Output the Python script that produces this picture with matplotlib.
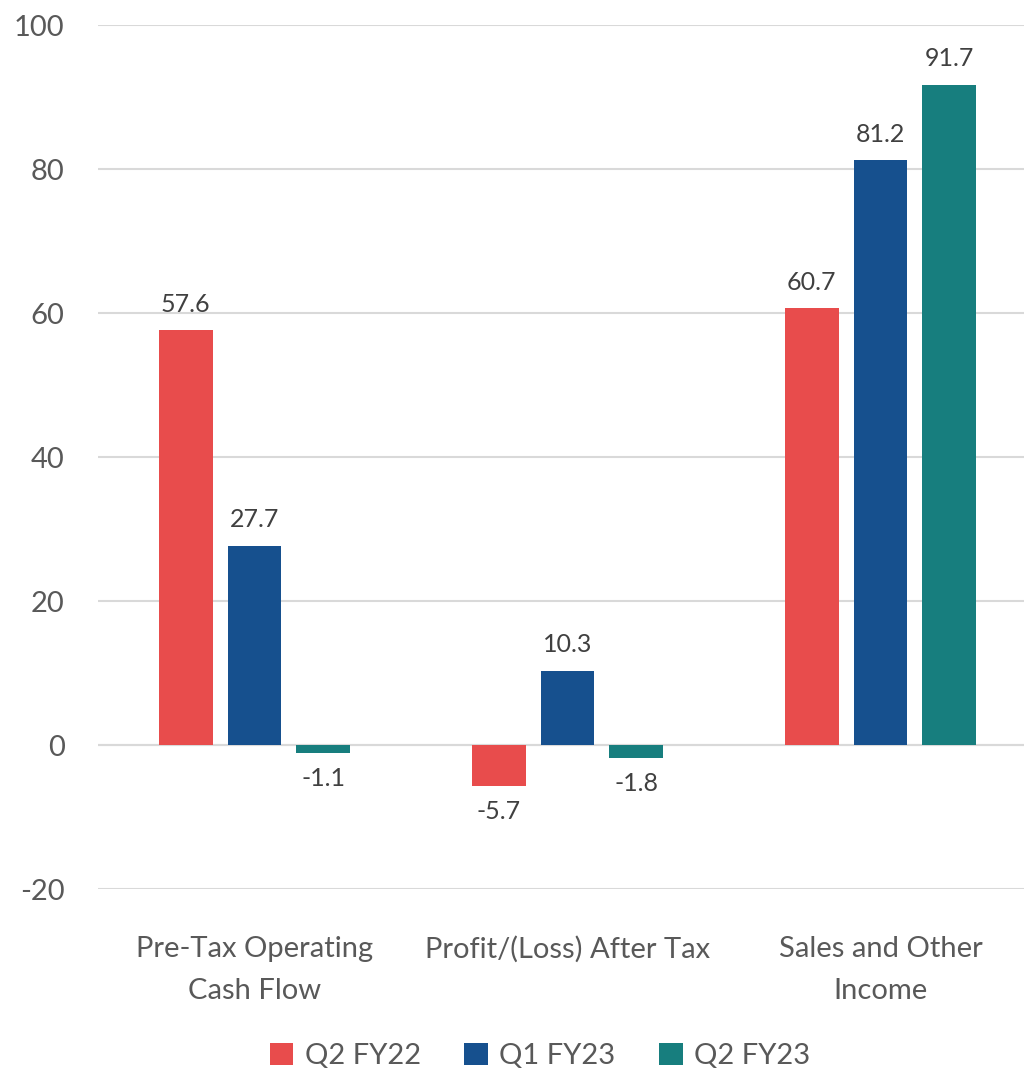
import numpy as np
import matplotlib.pyplot as plt

categories = ["Pre-Tax Operating\nCash Flow", "Profit/(Loss) After Tax", "Sales and Other\nIncome"]
series_names = ["Q2 FY22", "Q1 FY23", "Q2 FY23"]
q2_fy22 = [57.6, -5.7, 60.7]
q1_fy23 = [27.7, 10.3, 81.2]
q2_fy23 = [-1.1, -1.8, 91.7]
colors = ["#E84C4C", "#16508E", "#177E7E"]

plt.rcParams['font.family'] = ['Lato', 'DejaVu Sans']
plt.rcParams['axes.unicode_minus'] = False

fig = plt.figure(figsize=(10.24, 10.72), dpi=100)
# axes: x from 98px, extends slightly beyond right edge like the source crop
ax = fig.add_axes([98 / 1024, 1 - 889 / 1072, 939 / 1024, 864 / 1072])

x = np.arange(len(categories))
width = 0.1725
step = 0.22
for i, (vals, name) in enumerate(zip([q2_fy22, q1_fy23, q2_fy23], series_names)):
    pos = x + (i - 1) * step
    ax.bar(pos, vals, width, color=colors[i], label=name, zorder=3)
    for p, v in zip(pos, vals):
        if v >= 0:
            ax.text(p, v + 2.0, f"{v:.1f}", ha='center', va='bottom', fontsize=18, color='#404040')
        else:
            ax.text(p, v - 2.0, f"{v:.1f}", ha='center', va='top', fontsize=18, color='#404040')

ax.set_xlim(-0.5, 2.5)
ax.set_ylim(-20, 100)
ax.set_yticks(range(-20, 101, 20))
ax.yaxis.grid(True, color='#D9D9D9', linewidth=1.5, zorder=0)
ax.axhline(0, color='#D9D9D9', linewidth=1.5, zorder=2)
for s in ax.spines.values():
    s.set_visible(False)
ax.tick_params(axis='both', length=0, labelsize=21, labelcolor='#595959')
ax.tick_params(axis='y', pad=24)
ax.set_xticks(x)
ax.set_xticklabels(categories, fontsize=21, color='#595959', linespacing=1.75)
ax.tick_params(axis='x', pad=34)

fig.legend(loc='center', bbox_to_anchor=(540 / 1024, 1 - 1056 / 1072), ncol=3, frameon=False,
           fontsize=21, labelcolor='#595959', handlelength=0.8, handleheight=0.8,
           handletextpad=0.4, columnspacing=1.5)

fig.savefig("out.png", dpi=100)
